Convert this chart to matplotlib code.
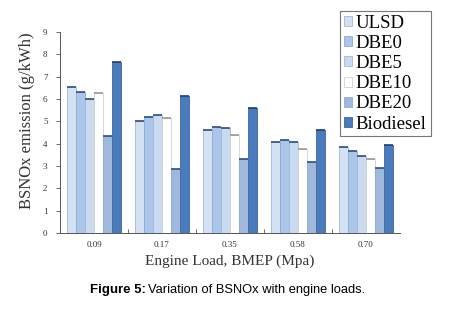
import numpy as np
import matplotlib
matplotlib.use('Agg')
import matplotlib.pyplot as plt
from matplotlib.patches import Patch

loads = ['0.09', '0.17', '0.35', '0.58', '0.70']
fuels = ['ULSD', 'DBE0', 'DBE5', 'DBE10', 'DBE20', 'Biodiesel']
ulsd = [6.53, 5.03, 4.61, 4.09, 3.84]
dbe0 = [6.33, 5.21, 4.73, 4.15, 3.67]
dbe5 = [6.00, 5.27, 4.70, 4.06, 3.43]
dbe10 = [6.27, 5.16, 4.39, 3.78, 3.31]
dbe20 = [4.34, 2.85, 3.31, 3.18, 2.92]
biodiesel = [7.66, 6.13, 5.58, 4.60, 3.94]
series = [ulsd, dbe0, dbe5, dbe10, dbe20, biodiesel]

faces = ['#d3e1f2', '#abc6e8', '#c9dbf1', '#ffffff', '#9fb8dc', '#4a7bbd']
edges = ['#9fb8dc', '#8aaad6', '#9fb8dc', '#d0d0d0', '#8aaad6', '#3b679f']
tops = ['#2f4f7f', '#2f4f7f', '#2f4f7f', '#9a9a9a', '#2f4f7f', '#1f3f6f']

serif = ['Liberation Serif', 'DejaVu Serif']

fig = plt.figure(figsize=(4.49, 3.10), dpi=100)
ax = fig.add_axes([60/449, 1 - 233/310, 340/449, 201/310])

x = np.arange(len(loads))
w = 0.133
for i, vals in enumerate(series):
    pos = x - 2.5*w + i*w
    ax.bar(pos, vals, w, color=faces[i], edgecolor=edges[i], linewidth=0.6)
    ax.hlines(vals, pos - w/2, pos + w/2, color=tops[i], linewidth=1.2)

ax.set_xlim(-0.5, len(loads) - 0.5)
ax.set_ylim(0, 9)
ax.set_yticks(range(10))
ax.set_xticks(x)
ax.set_xticklabels(loads, fontfamily=serif, fontsize=6.5, color='#333333')
ax.set_yticklabels([str(v) for v in range(10)], fontfamily=serif, fontsize=6.5, color='#333333')
ax.tick_params(axis='x', length=0, pad=6)
ax.tick_params(axis='y', length=3, width=0.6, color='#555555', pad=6)
ax.set_xticks(np.arange(0.5, len(loads) - 0.5), minor=True)
ax.tick_params(axis='x', which='minor', direction='in', length=3, width=0.6, color='#555555')
for s in ['top', 'right']:
    ax.spines[s].set_visible(False)
for s in ['left', 'bottom']:
    ax.spines[s].set_linewidth(0.7)
    ax.spines[s].set_color('#555555')

ax.set_xlabel('Engine Load, BMEP (Mpa)', fontfamily=serif, fontsize=11, color='#333333', labelpad=4)
ax.set_ylabel('BSNOx emission (g/kWh)', fontfamily=serif, fontsize=12, color='#333333')
ax.yaxis.set_label_coords(-25/340, 0.56)

handles = [Patch(facecolor=faces[i], edgecolor=edges[i], linewidth=0.6) for i in range(len(fuels))]
leg = fig.legend(handles, fuels, loc='upper left', bbox_to_anchor=(340/449, 1 - 11/310),
                 prop={'family': serif, 'size': 13.5}, handlelength=0.45, handleheight=0.45,
                 handletextpad=0.2, labelspacing=0.17, borderpad=0.2, borderaxespad=0,
                 frameon=True, fancybox=False)
leg.get_frame().set_edgecolor('#555555')
leg.get_frame().set_linewidth(0.8)

fig.text(146/449, 1 - 290/310, 'Figure 5:', ha='right', va='center', fontsize=9.5,
         fontweight='bold', fontfamily='Liberation Sans')
fig.text(148/449, 1 - 290/310, 'Variation of BSNOx with engine loads.', ha='left',
         va='center', fontsize=9.3, fontfamily='Liberation Sans')

fig.savefig('out.png', dpi=100)
